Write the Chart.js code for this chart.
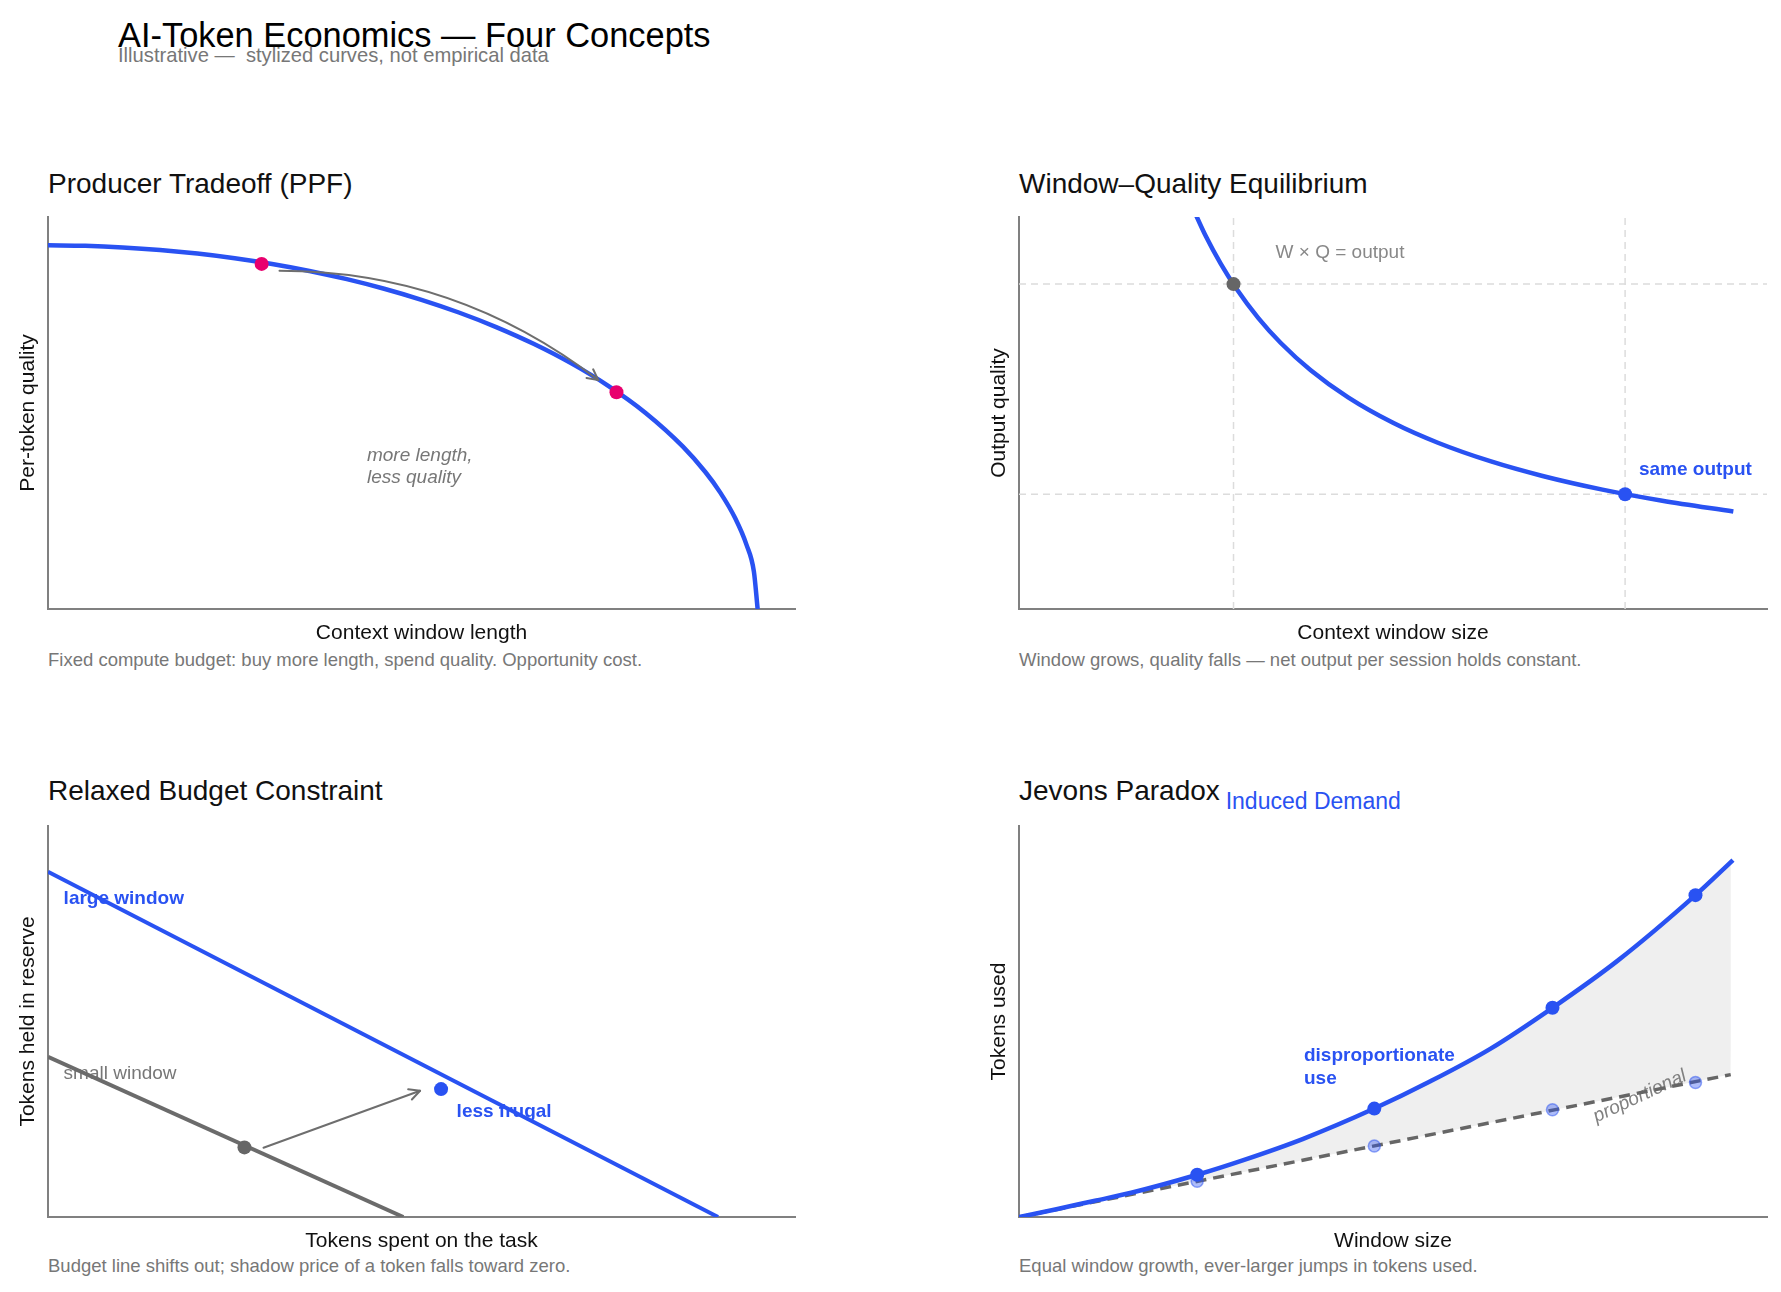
<!DOCTYPE html>
<html><head><meta charset="utf-8">
<script src="https://cdn.jsdelivr.net/npm/chart.js@4.4.1/dist/chart.umd.min.js"></script>
<style>
html,body{margin:0;padding:0;background:#fff;width:1781px;height:1292px;overflow:hidden;font-family:"Liberation Sans",Arial,Helvetica,sans-serif;}
.t{position:absolute;white-space:pre;line-height:1;}
canvas{position:absolute;}
</style></head><body>
<div class="t" style="left:118px;top:17.5px;font-size:34.4px;color:#000">AI-Token Economics — Four Concepts</div>
<div class="t" style="left:118px;top:44.5px;font-size:20.2px;color:#777">Illustrative —  stylized curves, not empirical data</div>

<div class="t" style="left:48px;top:169.5px;font-size:28px;color:#111">Producer Tradeoff (PPF)</div>
<div class="t" style="left:1019px;top:169.5px;font-size:28px;color:#111">Window–Quality Equilibrium</div>
<div class="t" style="left:48px;top:777px;font-size:28px;color:#111">Relaxed Budget Constraint</div>
<div class="t" style="left:1019px;top:777px;font-size:28px;color:#111">Jevons Paradox</div>
<div class="t" style="left:1225.7px;top:790.3px;font-size:23px;color:#2952f2">Induced Demand</div>

<div class="t" style="left:48px;top:650.5px;font-size:18.5px;color:#777">Fixed compute budget: buy more length, spend quality. Opportunity cost.</div>
<div class="t" style="left:1019px;top:650.5px;font-size:18.5px;color:#777">Window grows, quality falls — net output per session holds constant.</div>
<div class="t" style="left:48px;top:1256.5px;font-size:18.5px;color:#777">Budget line shifts out; shadow price of a token falls toward zero.</div>
<div class="t" style="left:1019px;top:1256.5px;font-size:18.5px;color:#777">Equal window growth, ever-larger jumps in tokens used.</div>

<canvas id="c1"></canvas>
<canvas id="c2"></canvas>
<canvas id="c3"></canvas>
<canvas id="c4"></canvas>

<script>
// ---------------- DATA ----------------
// Panel 1: Producer tradeoff (PPF)
const ppfX = [0, 0.05, 0.10, 0.15, 0.20, 0.25, 0.30, 0.35, 0.40, 0.45, 0.50, 0.55, 0.60, 0.65, 0.70, 0.75, 0.80, 0.85, 0.88, 0.90, 0.92, 0.935, 0.945, 0.95];
const ppfY = [1.000, 0.9986, 0.9944, 0.9875, 0.9776, 0.9647, 0.9488, 0.9297, 0.9070, 0.8807, 0.8503, 0.8154, 0.7753, 0.7293, 0.6761, 0.6138, 0.5393, 0.4466, 0.3767, 0.3201, 0.2494, 0.1770, 0.1025, 0];
const ppfPointX = [0.286, 0.761];
const ppfPointY = [0.949, 0.596];

// Panel 2: Window–quality equilibrium (W x Q = const)
const eqX = [0.23, 0.25, 0.27, 0.29, 0.32, 0.35, 0.39, 0.44, 0.50, 0.56, 0.63, 0.70, 0.78, 0.86, 0.955];
const eqY = [1.0326, 0.950, 0.8796, 0.8190, 0.7422, 0.6786, 0.6090, 0.5398, 0.4750, 0.4241, 0.3770, 0.3393, 0.3045, 0.2762, 0.2487];
const eqPointX = [0.2868, 0.8103];
const eqPointY = [0.8288, 0.2927];

// Panel 3: Relaxed budget constraint
const largeX = [0, 0.897];
const largeY = [0.883, 0];
const smallX = [0, 0.4757];
const smallY = [0.4094, 0];
const budgetPointX = [0.263, 0.5262];
const budgetPointY = [0.178, 0.3271];

// Panel 4: Jevons paradox
const jevX = [0, 0.05, 0.10, 0.15, 0.2382, 0.30, 0.38, 0.475, 0.55, 0.63, 0.7132, 0.80, 0.9044, 0.9545];
const jevY = [0, 0.0198, 0.0411, 0.062, 0.108, 0.1455, 0.200, 0.2773, 0.347, 0.430, 0.535, 0.655, 0.8232, 0.9129];
const jevMarkX = [0.2382, 0.475, 0.7132, 0.9044];
const jevMarkY = [0.108, 0.2773, 0.535, 0.8232];
const propX = [0, 0.9515];
const propY = [0, 0.3642];
const propMarkY = [0.0915, 0.1814, 0.2742, 0.344];

// ---------------- STYLE ----------------
const BLUE = '#2952f2';
const PINK = '#e8006e';
const GRAY = '#6b6b6b';
const FONT = '"Liberation Sans", Arial, Helvetica, sans-serif';
Chart.defaults.font.family = FONT;

const pts = (xs, ys) => xs.map((x, i) => ({x, y: ys[i]}));

const annotPlugin = {
  id: 'annot',
  beforeDatasetsDraw(chart, args, opts) {
    const {ctx} = chart; const x = chart.scales.x, y = chart.scales.y;
    ctx.save();
    (opts.texts || []).forEach(t => {
      ctx.font = t.font; ctx.fillStyle = t.color; ctx.textBaseline = 'middle';
      ctx.textAlign = t.align || 'left';
      const px = x.getPixelForValue(t.x), py = y.getPixelForValue(t.y) + 1.5;
      if (t.rotate) { ctx.save(); ctx.translate(px, py); ctx.rotate(t.rotate * Math.PI / 180); ctx.fillText(t.text, 0, 0); ctx.restore(); }
      else ctx.fillText(t.text, px, py);
    });
    ctx.restore();
  },
  afterDatasetsDraw(chart, args, opts) {
    const {ctx} = chart; const x = chart.scales.x, y = chart.scales.y;
    ctx.save();
    (opts.arrows || []).forEach(a => {
      const x1 = x.getPixelForValue(a.from[0]), y1 = y.getPixelForValue(a.from[1]);
      const x2 = x.getPixelForValue(a.to[0]), y2 = y.getPixelForValue(a.to[1]);
      ctx.strokeStyle = a.color; ctx.lineWidth = a.width; ctx.lineCap = 'round'; ctx.lineJoin = 'round';
      ctx.beginPath(); ctx.moveTo(x1, y1);
      let ang;
      if (a.ctrl) {
        const cx = x.getPixelForValue(a.ctrl[0]), cy = y.getPixelForValue(a.ctrl[1]);
        ctx.quadraticCurveTo(cx, cy, x2, y2); ang = Math.atan2(y2 - cy, x2 - cx);
      } else { ctx.lineTo(x2, y2); ang = Math.atan2(y2 - y1, x2 - x1); }
      ctx.stroke();
      const L = 12, h = 0.47;
      ctx.beginPath();
      ctx.moveTo(x2 - L * Math.cos(ang - h), y2 - L * Math.sin(ang - h));
      ctx.lineTo(x2, y2);
      ctx.lineTo(x2 - L * Math.cos(ang + h), y2 - L * Math.sin(ang + h));
      ctx.stroke();
    });
    ctx.restore();
  }
};

function makeChart(id, box, datasets, xMax, yMax, xTitle, yTitle, annot) {
  const [L, T, R, B] = box;
  const cv = document.getElementById(id);
  const padL = 47, padT = 12, padR = 14, padB = 42;
  cv.width = (R - L) + padL + padR; cv.height = (B - T) + padT + padB;
  cv.style.left = (L - padL) + 'px'; cv.style.top = (T - padT) + 'px';
  const axisTitleFont = {family: FONT, size: 21};
  return new Chart(cv, {
    type: 'scatter',
    data: {datasets},
    options: {
      responsive: false, animation: false, devicePixelRatio: 1, events: [],
      layout: {padding: {top: padT, right: padR, left: 0, bottom: 0}},
      scales: {
        x: {type: 'linear', min: 0, max: xMax, grid: {display: false}, ticks: {display: false},
            border: {display: true, color: '#808080', width: 2},
            title: {display: true, text: xTitle, color: '#111', font: axisTitleFont, padding: {top: 0, bottom: 5}},
            afterFit: s => { s.height = padB; }},
        y: {type: 'linear', min: 0, max: yMax, grid: {display: false}, ticks: {display: false},
            border: {display: true, color: '#808080', width: 2},
            title: {display: true, text: yTitle, color: '#111', font: axisTitleFont, padding: {top: 14.9, bottom: 0}},
            afterFit: s => { s.width = padL; }}
      },
      plugins: {
        legend: {display: false}, tooltip: {enabled: false},
        filler: {propagate: false, drawTime: 'beforeDatasetsDraw'},
        annot
      }
    },
    plugins: [annotPlugin]
  });
}

const txt = (text, x, y, style, color, extra) => Object.assign({text, x, y, font: style + ' 19px ' + FONT, color}, extra || {});

// Panel 1
makeChart('c1', [48, 217, 795, 609], [
  {data: pts(ppfPointX, ppfPointY), showLine: false, pointRadius: 7, pointBackgroundColor: PINK, pointBorderWidth: 0},
  {data: pts(ppfX, ppfY), showLine: true, borderColor: BLUE, borderWidth: 4.5, pointRadius: 0, cubicInterpolationMode: 'monotone', fill: false}
], 1.0, 1.078, 'Context window length', 'Per-token quality', {
  texts: [txt('more length,', 0.427, 0.4254, 'italic', '#777'), txt('less quality', 0.427, 0.366, 'italic', '#777')],
  arrows: [{from: [0.3099, 0.930], ctrl: [0.5463, 0.930], to: [0.7367, 0.6294], color: '#6e6e6e', width: 2}]
});

// Panel 2
const gridStyle = {showLine: true, borderColor: '#dcdcdc', borderWidth: 1.5, borderDash: [7, 5], pointRadius: 0, fill: false};
makeChart('c2', [1019, 217, 1767, 609], [
  {data: [{x: eqPointX[0], y: eqPointY[0]}], showLine: false, pointRadius: 7, pointBackgroundColor: '#666', pointBorderWidth: 0},
  {data: [{x: eqPointX[1], y: eqPointY[1]}], showLine: false, pointRadius: 7, pointBackgroundColor: BLUE, pointBorderWidth: 0},
  {data: pts(eqX, eqY), showLine: true, borderColor: BLUE, borderWidth: 4.5, pointRadius: 0, cubicInterpolationMode: 'monotone', fill: false},
  Object.assign({data: [{x: eqPointX[0], y: 0}, {x: eqPointX[0], y: 1}]}, gridStyle),
  Object.assign({data: [{x: eqPointX[1], y: 0}, {x: eqPointX[1], y: 1}]}, gridStyle),
  Object.assign({data: [{x: 0, y: eqPointY[0]}, {x: 1, y: eqPointY[0]}]}, gridStyle),
  Object.assign({data: [{x: 0, y: eqPointY[1]}, {x: 1, y: eqPointY[1]}]}, gridStyle)
], 1.0, 1.0, 'Context window size', 'Output quality', {
  texts: [txt('W × Q = output', 0.343, 0.913, 'normal', '#888'), txt('same output', 0.8288, 0.36, 'bold', BLUE)]
});

// Panel 3
makeChart('c3', [48, 826, 795, 1217], [
  {data: [{x: budgetPointX[0], y: budgetPointY[0]}], showLine: false, pointRadius: 7, pointBackgroundColor: '#666', pointBorderWidth: 0},
  {data: [{x: budgetPointX[1], y: budgetPointY[1]}], showLine: false, pointRadius: 7, pointBackgroundColor: BLUE, pointBorderWidth: 0},
  {data: pts(largeX, largeY), showLine: true, borderColor: BLUE, borderWidth: 4, pointRadius: 0, fill: false},
  {data: pts(smallX, smallY), showLine: true, borderColor: GRAY, borderWidth: 4, pointRadius: 0, fill: false}
], 1.0, 1.0, 'Tokens spent on the task', 'Tokens held in reserve', {
  texts: [txt('large window', 0.0209, 0.8176, 'bold', BLUE), txt('small window', 0.0209, 0.370, 'normal', '#777'),
          txt('less frugal', 0.547, 0.274, 'bold', BLUE)],
  arrows: [{from: [0.2885, 0.1771], to: [0.4981, 0.3228], color: '#6e6e6e', width: 2}]
});

// Panel 4
makeChart('c4', [1019, 826, 1767, 1217], [
  {data: pts(jevMarkX, jevMarkY), showLine: false, pointRadius: 7, pointBackgroundColor: BLUE, pointBorderWidth: 0},
  {data: pts(jevX, jevY), showLine: true, borderColor: BLUE, borderWidth: 4.5, pointRadius: 0, cubicInterpolationMode: 'monotone',
   fill: {target: 3}, backgroundColor: '#efefef'},
  {data: pts(jevMarkX, propMarkY), showLine: false, pointRadius: 6, pointBackgroundColor: 'rgba(41,82,242,0.38)', pointBorderColor: 'rgba(41,82,242,0.5)', pointBorderWidth: 1.5},
  {data: pts(propX, propY), showLine: true, borderColor: '#666', borderWidth: 3.5, borderDash: [11, 7], pointRadius: 0, fill: false}
], 1.0, 1.0, 'Window size', 'Tokens used', {
  texts: [txt('disproportionate', 0.381, 0.4166, 'bold', BLUE), txt('use', 0.381, 0.3585, 'bold', BLUE),
          txt('proportional', 0.83, 0.312, 'italic', '#808080', {align: 'center', rotate: -25})]
});
</script>
</body></html>
